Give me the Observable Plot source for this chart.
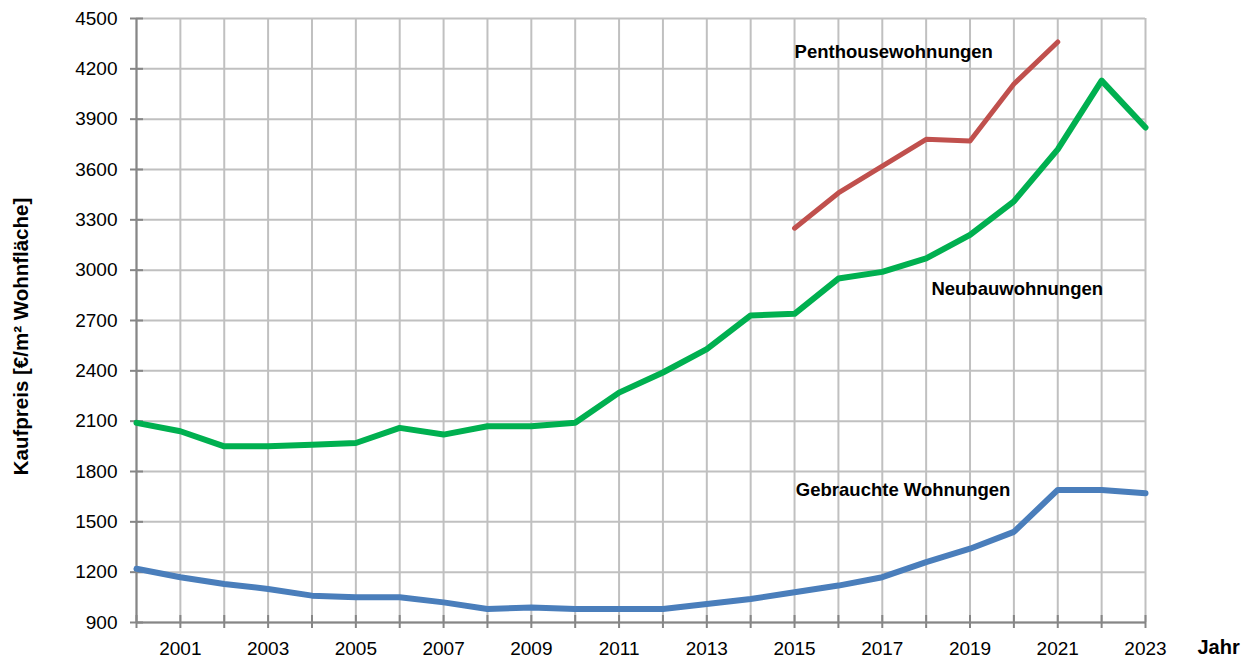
<!DOCTYPE html>
<html>
<head>
<meta charset="utf-8">
<script src="https://cdn.jsdelivr.net/npm/d3@7"></script>
<script src="https://cdn.jsdelivr.net/npm/@observablehq/plot@0.6"></script>
<style>
  html, body { margin: 0; padding: 0; background: #fff; }
  #chart { width: 1256px; height: 658px; }
</style>
</head>
<body>
<div id="chart"></div>
<script>
const years = [2000, 2001, 2002, 2003, 2004, 2005, 2006, 2007, 2008, 2009, 2010, 2011,
               2012, 2013, 2014, 2015, 2016, 2017, 2018, 2019, 2020, 2021, 2022, 2023];
const neubau = [2090, 2040, 1950, 1950, 1960, 1970, 2060, 2020, 2070, 2070, 2090, 2270,
                2390, 2530, 2730, 2740, 2950, 2990, 3070, 3210, 3410, 3720, 4130, 3850];
const gebraucht = [1220, 1170, 1130, 1100, 1060, 1050, 1050, 1020, 980, 990, 980, 980,
                   980, 1010, 1040, 1080, 1120, 1170, 1260, 1340, 1440, 1690, 1690, 1670];
const penthouseYears = [2015, 2016, 2017, 2018, 2019, 2020, 2021];
const penthouse = [3250, 3460, 3620, 3780, 3770, 4110, 4360];
const yTicks = [900, 1200, 1500, 1800, 2100, 2400, 2700, 3000, 3300, 3600, 3900, 4200, 4500];
const xTickLabels = [2001, 2003, 2005, 2007, 2009, 2011, 2013, 2015, 2017, 2019, 2021, 2023];
const seriesNames = ["Penthousewohnungen", "Neubauwohnungen", "Gebrauchte Wohnungen"];
const yTitle = "Kaufpreis [€/m² Wohnfläche]";
const xTitle = "Jahr";

const rows = (xs, vs) => xs.map((x, i) => ({x, v: vs[i]}));
const neubauRows = rows(years, neubau);
const gebrauchtRows = rows(years, gebraucht);
const penthouseRows = rows(penthouseYears, penthouse);

const gridColor = "#c0c0c0";
const axisColor = "#868686";

const chart = Plot.plot({
  width: 1256,
  height: 658,
  marginLeft: 136,
  marginRight: 111,
  marginTop: 18,
  marginBottom: 36,
  style: {fontFamily: "'Liberation Sans', Arial, sans-serif", fontSize: "19px", color: "#000", background: "#fff"},
  x: {domain: [2000, 2023]},
  y: {domain: [900, 4500]},
  marks: [
    Plot.gridX(years, {stroke: gridColor, strokeOpacity: 1, strokeWidth: 2}),
    Plot.gridY(yTicks, {stroke: gridColor, strokeOpacity: 1, strokeWidth: 2}),
    Plot.axisY(yTicks, {tickSize: 6, tickPadding: 13, stroke: axisColor, strokeWidth: 2, label: null, fill: "#000",
      tickFormat: d => String(d)}),
    Plot.axisY(yTicks, {tickSize: -7, tickFormat: () => "", stroke: axisColor, strokeWidth: 2, label: null}),
    Plot.axisX(years, {tickSize: 6, tickPadding: 13, stroke: axisColor, strokeWidth: 2, label: null, fill: "#000",
      tickFormat: d => xTickLabels.includes(d) ? String(d) : ""}),
    Plot.axisX(years, {tickSize: -7, tickFormat: () => "", stroke: axisColor, strokeWidth: 2, label: null}),
    Plot.ruleX([years[0]], {stroke: axisColor, strokeWidth: 2}),
    Plot.ruleY([yTicks[0]], {stroke: axisColor, strokeWidth: 2}),
    Plot.line(gebrauchtRows, {x: "x", y: "v", stroke: "#4a7ebb", strokeWidth: 6, strokeLinejoin: "round"}),
    Plot.line(neubauRows, {x: "x", y: "v", stroke: "#00b050", strokeWidth: 6, strokeLinejoin: "round"}),
    Plot.line(penthouseRows, {x: "x", y: "v", stroke: "#c0504d", strokeWidth: 5, strokeLinejoin: "round", strokeLinecap: "round"}),
    Plot.text([seriesNames[0]], {x: 2015, y: 4300, text: d => d, textAnchor: "start", lineAnchor: "middle", fontWeight: "bold", fontSize: 18.5, fill: "#000"}),
    Plot.text([seriesNames[1]], {x: 2018.12, y: 2890, text: d => d, textAnchor: "start", lineAnchor: "middle", fontWeight: "bold", fontSize: 18.5, fill: "#000"}),
    Plot.text([seriesNames[2]], {x: 2015.03, y: 1690, text: d => d, textAnchor: "start", lineAnchor: "middle", fontWeight: "bold", fontSize: 18.5, fill: "#000"}),
    Plot.text([xTitle], {frameAnchor: "bottom-right", dx: 52, dy: 25, text: d => d, textAnchor: "start", lineAnchor: "middle", fontWeight: "bold", fontSize: 20, fill: "#000"}),
    Plot.text([yTitle], {frameAnchor: "left", dx: -115, dy: 16, rotate: -90, text: d => d, textAnchor: "middle", lineAnchor: "middle", fontWeight: "bold", fontSize: 20.5, fill: "#000"})
  ]
});
document.getElementById("chart").appendChild(chart);
</script>
</body>
</html>
